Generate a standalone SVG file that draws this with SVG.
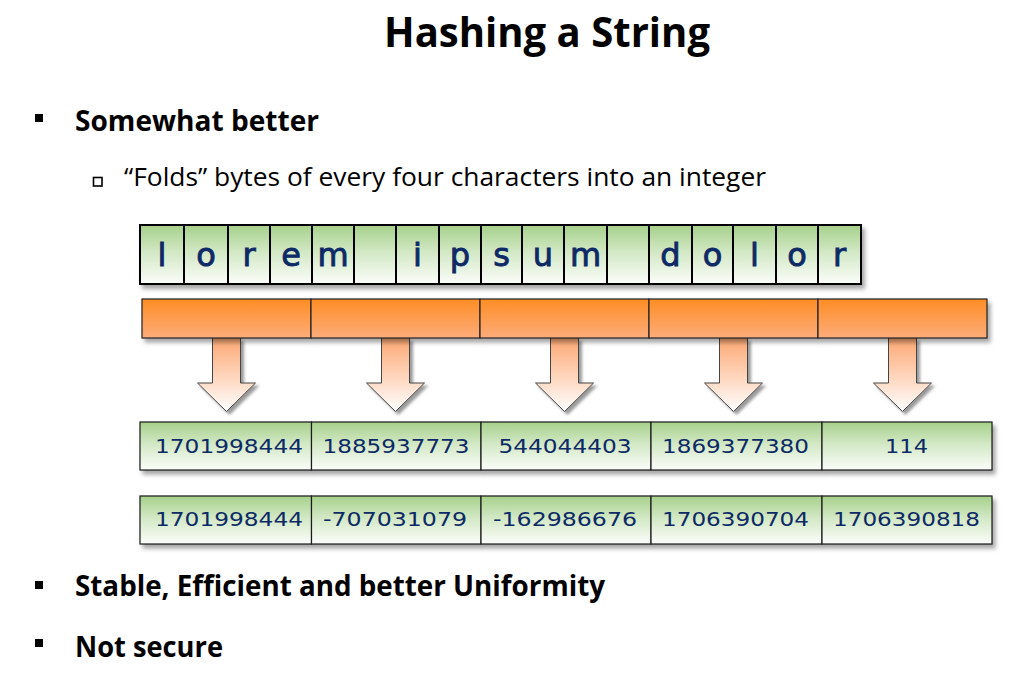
<svg xmlns="http://www.w3.org/2000/svg" width="1035" height="683" viewBox="0 0 1035 683">
<defs>
<linearGradient id="gGreen" x1="0" y1="0" x2="0" y2="1">
<stop offset="0" stop-color="#a6d08b"/><stop offset="0.45" stop-color="#d2e8c4"/><stop offset="1" stop-color="#fbfdfa"/>
</linearGradient>
<linearGradient id="gOrange" x1="0" y1="0" x2="0" y2="1">
<stop offset="0" stop-color="#fe8d24"/><stop offset="1" stop-color="#fdac7b"/>
</linearGradient>
<linearGradient id="gArrow" x1="0" y1="0" x2="0" y2="1">
<stop offset="0" stop-color="#fda772"/><stop offset="1" stop-color="#ffffff"/>
</linearGradient>
<filter id="sh" x="-5%" y="-20%" width="115%" height="160%">
<feDropShadow dx="3" dy="4" stdDeviation="2" flood-color="#000" flood-opacity="0.35"/>
</filter>
<filter id="sha" x="-30%" y="-10%" width="170%" height="130%">
<feDropShadow dx="3" dy="3" stdDeviation="1.8" flood-color="#000" flood-opacity="0.4"/>
</filter>
</defs>
<style>
.t{font-family:"Open Sans","Liberation Sans",sans-serif;fill:#000}
.b{font-weight:700}
.let{font-family:"DejaVu Sans","Liberation Sans",sans-serif;font-size:32px;fill:#0d2a66;stroke:#0d2a66;stroke-width:0.9;text-anchor:middle}
.num{font-family:"DejaVu Sans","Liberation Sans",sans-serif;font-size:19px;fill:#0d2a66;text-anchor:middle}
.lc{fill:url(#gGreen);stroke:#000;stroke-width:2}
.nc{fill:url(#gGreen);stroke:#1a1a1a;stroke-width:1.2}
.oc{fill:url(#gOrange);stroke:#222;stroke-width:1.2}
.ar{fill:url(#gArrow);stroke:#444;stroke-width:1}
</style>

<g id="title"><text class="t b" x="547" y="47" font-size="41" text-anchor="middle" textLength="326" lengthAdjust="spacingAndGlyphs">Hashing a String</text></g>

<g id="bullet1">
<rect x="35" y="114" width="8" height="8" fill="#000"/>
<text class="t b" x="75" y="131" font-size="29" textLength="244" lengthAdjust="spacingAndGlyphs">Somewhat better</text>
</g>
<g id="bullet1a">
<rect x="93.5" y="177.5" width="8.5" height="8.5" fill="#fff" stroke="#000" stroke-width="1.6"/>
<text class="t" x="124" y="186" font-size="25" textLength="642" lengthAdjust="spacingAndGlyphs">“Folds” bytes of every four characters into an integer</text>
</g>

<g id="letters" filter="url(#sh)">
<rect class="lc" x="140" y="225" width="44" height="59"/>
<rect class="lc" x="184" y="225" width="44" height="59"/>
<rect class="lc" x="228" y="225" width="42" height="59"/>
<rect class="lc" x="270" y="225" width="42" height="59"/>
<rect class="lc" x="312" y="225" width="42" height="59"/>
<rect class="lc" x="354" y="225" width="42" height="59"/>
<rect class="lc" x="396" y="225" width="43" height="59"/>
<rect class="lc" x="439" y="225" width="42" height="59"/>
<rect class="lc" x="481" y="225" width="41" height="59"/>
<rect class="lc" x="522" y="225" width="42" height="59"/>
<rect class="lc" x="564" y="225" width="43" height="59"/>
<rect class="lc" x="607" y="225" width="42" height="59"/>
<rect class="lc" x="649" y="225" width="43" height="59"/>
<rect class="lc" x="692" y="225" width="41" height="59"/>
<rect class="lc" x="733" y="225" width="43" height="59"/>
<rect class="lc" x="776" y="225" width="42" height="59"/>
<rect class="lc" x="818" y="225" width="43" height="59"/>
</g>
<g id="letter-text">
<text class="let" x="162" y="266">l</text>
<text class="let" x="206" y="266">o</text>
<text class="let" x="249" y="266">r</text>
<text class="let" x="291" y="266">e</text>
<text class="let" x="333" y="266">m</text>
<text class="let" x="417.5" y="266">i</text>
<text class="let" x="460" y="266">p</text>
<text class="let" x="501.5" y="266">s</text>
<text class="let" x="543" y="266">u</text>
<text class="let" x="585.5" y="266">m</text>
<text class="let" x="670.5" y="266">d</text>
<text class="let" x="712.5" y="266">o</text>
<text class="let" x="754.5" y="266">l</text>
<text class="let" x="797" y="266">o</text>
<text class="let" x="839.5" y="266">r</text>
</g>

<g id="connectors" filter="url(#sha)">
<path class="ar" d="M212.5,338 V383 H197.5 L226.5,411.5 L255.5,383 H240.5 V338"/>
<path class="ar" d="M381.5,338 V383 H366.5 L395.5,411.5 L424.5,383 H409.5 V338"/>
<path class="ar" d="M550.5,338 V383 H535.5 L564.5,411.5 L593.5,383 H578.5 V338"/>
<path class="ar" d="M719.5,338 V383 H704.5 L733.5,411.5 L762.5,383 H747.5 V338"/>
<path class="ar" d="M888.5,338 V383 H873.5 L902.5,411.5 L931.5,383 H916.5 V338"/>
</g>

<g id="fold-bar" filter="url(#sh)">
<rect class="oc" x="142" y="299" width="169" height="39"/>
<rect class="oc" x="311" y="299" width="169" height="39"/>
<rect class="oc" x="480" y="299" width="169" height="39"/>
<rect class="oc" x="649" y="299" width="169" height="39"/>
<rect class="oc" x="818" y="299" width="169" height="39"/>
</g>

<g id="row1">
<g filter="url(#sh)">
<rect class="nc" x="140" y="422" width="171.5" height="48"/>
<rect class="nc" x="311.5" y="422" width="169.5" height="48"/>
<rect class="nc" x="481" y="422" width="170" height="48"/>
<rect class="nc" x="651" y="422" width="171" height="48"/>
<rect class="nc" x="822" y="422" width="170" height="48"/>
</g>
<text class="num" x="229" y="452.5" textLength="148" lengthAdjust="spacingAndGlyphs">1701998444</text>
<text class="num" x="396" y="452.5" textLength="147" lengthAdjust="spacingAndGlyphs">1885937773</text>
<text class="num" x="565" y="452.5" textLength="133" lengthAdjust="spacingAndGlyphs">544044403</text>
<text class="num" x="735.5" y="452.5" textLength="147" lengthAdjust="spacingAndGlyphs">1869377380</text>
<text class="num" x="906.5" y="452.5" textLength="43" lengthAdjust="spacingAndGlyphs">114</text>
</g>

<g id="row2">
<g filter="url(#sh)">
<rect class="nc" x="140" y="496" width="171.5" height="48"/>
<rect class="nc" x="311.5" y="496" width="169.5" height="48"/>
<rect class="nc" x="481" y="496" width="170" height="48"/>
<rect class="nc" x="651" y="496" width="171" height="48"/>
<rect class="nc" x="822" y="496" width="170" height="48"/>
</g>
<text class="num" x="229" y="526" textLength="148" lengthAdjust="spacingAndGlyphs">1701998444</text>
<text class="num" x="395" y="526" textLength="144" lengthAdjust="spacingAndGlyphs">-707031079</text>
<text class="num" x="565" y="526" textLength="144" lengthAdjust="spacingAndGlyphs">-162986676</text>
<text class="num" x="735.5" y="526" textLength="147" lengthAdjust="spacingAndGlyphs">1706390704</text>
<text class="num" x="906.5" y="526" textLength="147" lengthAdjust="spacingAndGlyphs">1706390818</text>
</g>

<g id="bullet2">
<rect x="35" y="581" width="8" height="8" fill="#000"/>
<text class="t b" x="75" y="596" font-size="29" textLength="530" lengthAdjust="spacingAndGlyphs">Stable, Efficient and better Uniformity</text>
</g>
<g id="bullet3">
<rect x="35" y="639" width="8" height="8" fill="#000"/>
<text class="t b" x="75" y="657" font-size="29" textLength="148" lengthAdjust="spacingAndGlyphs">Not secure</text>
</g>
</svg>
